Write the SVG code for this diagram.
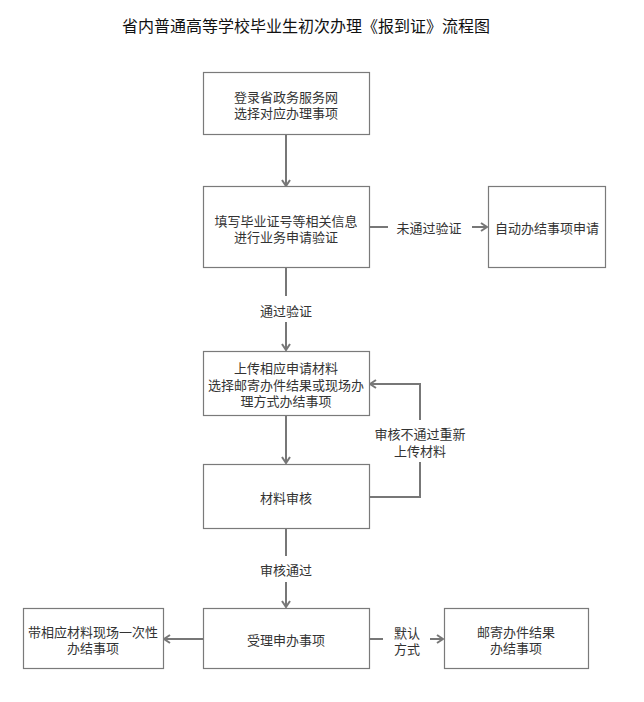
<svg xmlns="http://www.w3.org/2000/svg" width="644" height="702" viewBox="0 0 644 702">
<defs>
<style>
.box{fill:#fff;stroke:#7a7a7a;stroke-width:1.2}
.t{font-family:"Noto Sans CJK SC","Liberation Sans",sans-serif;font-size:13px;fill:#333;text-anchor:middle;dominant-baseline:central}
.title{font-family:"Noto Sans CJK SC","Liberation Sans",sans-serif;font-size:16px;fill:#111;text-anchor:middle;dominant-baseline:central}
.ln{fill:none;stroke:#777;stroke-width:2}
</style>
<marker id="ah" viewBox="0 0 10 10" refX="9" refY="5" markerWidth="10" markerHeight="10" markerUnits="userSpaceOnUse" orient="auto">
<path d="M3,1 L9,5 L3,9" fill="none" stroke="#777" stroke-width="2"/>
</marker>
</defs>
<rect width="644" height="702" fill="#fff"/>
<text class="title" x="306" y="25">省内普通高等学校毕业生初次办理《报到证》流程图</text>
<g id="connectors">
<path class="ln" d="M286,134 V186" marker-end="url(#ah)"/>
<path class="ln" d="M369,227 H388"/>
<path class="ln" d="M472,227 H487" marker-end="url(#ah)"/>
<path class="ln" d="M286,267 V296"/>
<path class="ln" d="M286,322 V350" marker-end="url(#ah)"/>
<path class="ln" d="M286,415 V463" marker-end="url(#ah)"/>
<path class="ln" d="M369,497 H420 V462"/>
<path class="ln" d="M420,420 V384 H370" marker-end="url(#ah)"/>
<path class="ln" d="M286,528 V556"/>
<path class="ln" d="M286,582 V607" marker-end="url(#ah)"/>
<path class="ln" d="M203,639 H164" marker-end="url(#ah)"/>
<path class="ln" d="M369,639 H383"/>
<path class="ln" d="M430,639 H443" marker-end="url(#ah)"/>
<text class="t" x="429" y="227">未通过验证</text>
<text class="t" x="286" y="310">通过验证</text>
<text class="t" x="420" y="433">审核不通过重新<tspan x="420" dy="17">上传材料</tspan></text>
<text class="t" x="286" y="569">审核通过</text>
<text class="t" x="407" y="632">默认<tspan x="407" dy="16">方式</tspan></text>
</g>
<g id="n1"><rect class="box" x="203.5" y="72.5" width="166" height="62"/>
<text class="t" x="286" y="96">登录省政务服务网<tspan x="286" dy="16">选择对应办理事项</tspan></text></g>
<g id="n2"><rect class="box" x="203.5" y="186.5" width="166" height="81"/>
<text class="t" x="286" y="220">填写毕业证号等相关信息<tspan x="286" dy="16">进行业务申请验证</tspan></text></g>
<g id="n3"><rect class="box" x="488.5" y="186.5" width="117" height="81"/>
<text class="t" x="547" y="227">自动办结事项申请</text></g>
<g id="n4"><rect class="box" x="203.5" y="351.5" width="166" height="64"/>
<text class="t" x="286" y="367">上传相应申请材料<tspan x="286" dy="16.5">选择邮寄办件结果或现场办</tspan><tspan x="286" dy="16.5">理方式办结事项</tspan></text></g>
<g id="n5"><rect class="box" x="203.5" y="464.5" width="166" height="64"/>
<text class="t" x="286" y="497">材料审核</text></g>
<g id="n6"><rect class="box" x="203.5" y="608.5" width="166" height="60"/>
<text class="t" x="286" y="639">受理申办事项</text></g>
<g id="n7"><rect class="box" x="23.5" y="608.5" width="140" height="60"/>
<text class="t" x="93" y="631">带相应材料现场一次性<tspan x="93" dy="16">办结事项</tspan></text></g>
<g id="n8"><rect class="box" x="444.5" y="608.5" width="144" height="60"/>
<text class="t" x="516" y="631">邮寄办件结果<tspan x="516" dy="16">办结事项</tspan></text></g>
</svg>
